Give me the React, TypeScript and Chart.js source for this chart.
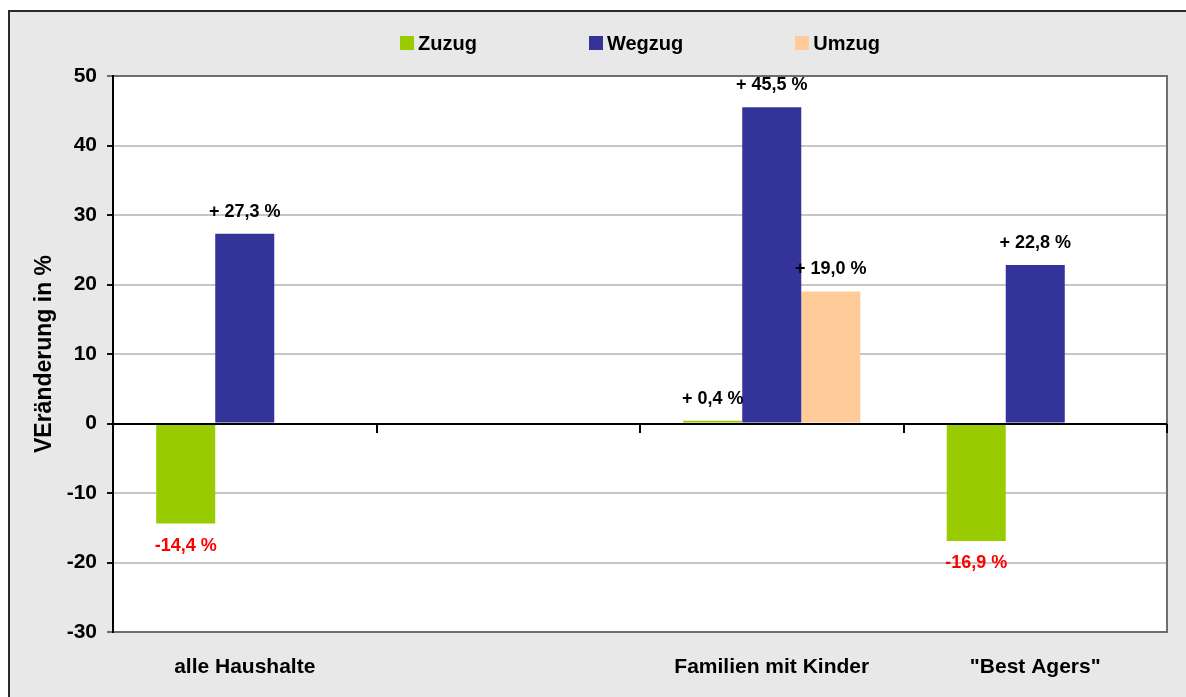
import React, { useEffect, useRef } from 'react';
import { Chart, registerables } from 'chart.js';

Chart.register(...registerables);

// Categories on the x axis (the second slot is an empty spacer group)
const categories = ['alle Haushalte', '', 'Familien mit Kinder', '"Best Agers"'];

// Change in percent per household type
const zuzug: (number | null)[] = [-14.4, null, 0.4, -16.9];
const wegzug: (number | null)[] = [27.3, null, 45.5, 22.8];
const umzug: (number | null)[] = [null, null, 19.0, null];

const seriesNames = ['Zuzug', 'Wegzug', 'Umzug'];
const seriesColors = ['#99cc00', '#333399', '#ffcc99'];

// Value axis
const yMin = -30;
const yMax = 50;
const yStep = 10;
const yTitle = 'VEränderung in %';

const FONT = "'Liberation Sans', Arial, Helvetica, sans-serif";

const formatValue = (v: number) => {
  const s = v.toFixed(1).replace('.', ',');
  return v >= 0 ? `+ ${s} %` : `${s} %`;
};

// Grey frame behind everything and white plot area
const backgroundPlugin = {
  id: 'panelBackground',
  beforeDraw(chart: any) {
    const { ctx, width, height, chartArea } = chart;
    ctx.save();
    ctx.fillStyle = '#ffffff';
    ctx.fillRect(0, 0, width, height);
    ctx.fillStyle = '#e8e8e8';
    ctx.fillRect(8, 10, width - 8, height - 10);
    ctx.fillStyle = '#2a2a2a';
    ctx.fillRect(8, 10, 2, height - 10);
    ctx.fillRect(8, 10, width - 8, 2);
    ctx.fillStyle = '#ffffff';
    ctx.fillRect(chartArea.left, chartArea.top, chartArea.right - chartArea.left, chartArea.bottom - chartArea.top);
    ctx.restore();
  },
};

// Zero line with category separators, plus right border of the plot area
const framePlugin = {
  id: 'plotFrame',
  afterDatasetsDraw(chart: any) {
    const { ctx, chartArea, scales } = chart;
    const xs = scales.x;
    const ys = scales.y;
    const y0 = Math.round(ys.getPixelForValue(0));
    ctx.save();
    // right border
    ctx.fillStyle = '#6e6e6e';
    ctx.fillRect(Math.round(chartArea.right) - 1, chartArea.top - 1, 2, chartArea.bottom - chartArea.top + 2);
    // zero line
    ctx.fillStyle = '#000000';
    ctx.fillRect(chartArea.left, y0 - 1, chartArea.right - chartArea.left, 2);
    // separators between categories
    const n = categories.length;
    const step = (xs.getPixelForValue(n - 1) - xs.getPixelForValue(0)) / (n - 1);
    for (let i = 0; i <= n; i++) {
      const x = Math.round(xs.getPixelForValue(0) - step / 2 + i * step);
      ctx.fillRect(x - 1, y0, 2, 9);
    }
    ctx.restore();
  },
};

// Value labels above / below each bar
const valueLabelPlugin = {
  id: 'valueLabels',
  afterDatasetsDraw(chart: any) {
    const { ctx } = chart;
    ctx.save();
    ctx.font = `bold 18px ${FONT}`;
    ctx.textAlign = 'center';
    ctx.textBaseline = 'middle';
    chart.data.datasets.forEach((ds: any, di: number) => {
      const meta = chart.getDatasetMeta(di);
      meta.data.forEach((el: any, i: number) => {
        const v = ds.data[i];
        if (v === null || v === undefined) return;
        if (v >= 0) {
          ctx.fillStyle = '#000000';
          ctx.fillText(formatValue(v), el.x, el.y - 22);
        } else {
          ctx.fillStyle = '#ff0000';
          ctx.fillText(formatValue(v), el.x, el.y + 22);
        }
      });
    });
    ctx.restore();
  },
};

// Legend row in the top margin, centred over the plot area
const legendPlugin = {
  id: 'topLegend',
  afterDraw(chart: any) {
    const { ctx, chartArea } = chart;
    const box = 14;
    const boxGap = 4;
    const itemGap = 112;
    const cy = 43;
    ctx.save();
    ctx.font = `bold 20px ${FONT}`;
    ctx.textBaseline = 'middle';
    ctx.textAlign = 'left';
    const widths = seriesNames.map((s) => box + boxGap + ctx.measureText(s).width);
    const total = widths.reduce((a, b) => a + b, 0) + itemGap * (seriesNames.length - 1);
    let x = (chartArea.left + chartArea.right) / 2 - total / 2;
    seriesNames.forEach((name, i) => {
      ctx.fillStyle = seriesColors[i];
      ctx.fillRect(Math.round(x), cy - 7, box, box);
      ctx.fillStyle = '#000000';
      ctx.fillText(name, x + box + boxGap, cy + 1);
      x += widths[i] + itemGap;
    });
    ctx.restore();
  },
};

export default function App() {
  const canvasRef = useRef<HTMLCanvasElement>(null);

  useEffect(() => {
    const canvas = canvasRef.current;
    if (!canvas) return;
    const series = [zuzug, wegzug, umzug];
    const chart = new Chart(canvas, {
      type: 'bar',
      data: {
        labels: categories,
        datasets: series.map((d, i) => ({
          label: seriesNames[i],
          data: d,
          backgroundColor: seriesColors[i],
          borderWidth: 0,
          categoryPercentage: 0.672,
          barPercentage: 1,
        })),
      },
      options: {
        responsive: false,
        maintainAspectRatio: false,
        animation: false,
        devicePixelRatio: 1,
        layout: { padding: { left: 20, right: 19, top: 76, bottom: 15 } },
        plugins: {
          legend: { display: false },
          tooltip: { enabled: false },
        },
        scales: {
          x: {
            grid: { display: false, drawTicks: false },
            border: { display: false },
            ticks: {
              color: '#000000',
              font: { family: FONT, size: 21, weight: 'bold' },
              padding: 23,
              maxRotation: 0,
              autoSkip: false,
            },
            afterFit: (s: any) => {
              s.height = 50;
            },
          },
          y: {
            min: yMin,
            max: yMax,
            ticks: {
              stepSize: yStep,
              color: '#000000',
              font: { family: FONT, size: 21, weight: 'bold' },
              padding: 10,
              callback: (v: any) => String(v),
            },
            grid: {
              lineWidth: 2,
              color: (c: any) => {
                const v = c.tick ? c.tick.value : 0;
                if (v === yMax || v === yMin) return '#6e6e6e';
                if (v === 0) return '#000000';
                return '#c6c6c6';
              },
              tickColor: (c: any) => {
                const v = c.tick ? c.tick.value : 0;
                if (v === yMax || v === yMin) return '#6e6e6e';
                return '#111111';
              },
              tickLength: 6,
              tickWidth: 2,
            },
            border: { display: true, color: '#000000', width: 2 },
            title: {
              display: true,
              text: yTitle,
              color: '#000000',
              font: { family: FONT, size: 23, weight: 'bold' },
              padding: { top: 11, bottom: 0 },
            },
            afterFit: (s: any) => {
              s.width = 93;
            },
          },
        },
      },
      plugins: [backgroundPlugin, framePlugin, valueLabelPlugin, legendPlugin],
    } as any);
    return () => chart.destroy();
  }, []);

  return (
    <div style={{ position: 'absolute', left: 0, top: 0, width: 1186, height: 697 }}>
      <canvas ref={canvasRef} width={1186} height={697} style={{ display: 'block' }} />
    </div>
  );
}
